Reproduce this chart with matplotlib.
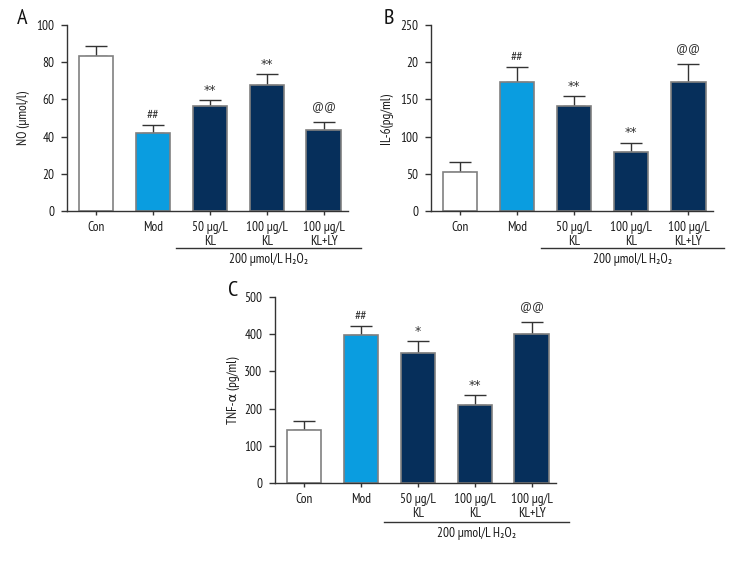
import matplotlib
matplotlib.use("Agg")
import matplotlib.pyplot as plt
from matplotlib import font_manager

names = {f.name for f in font_manager.fontManager.ttflist}
prefs = ['PT Sans Narrow', 'Fira Sans Condensed', 'Roboto Condensed', 'Open Sans Condensed',
         'Encode Sans Condensed', 'Archivo Narrow', 'Liberation Sans Narrow', 'Liberation Sans']
main_font = next(p for p in prefs if p in names)
fam = [main_font, 'DejaVu Sans']
plt.rcParams['font.family'] = fam

categories = ["Con", "Mod", "50 μg/L\nKL", "100 μg/L\nKL", "100 μg/L\nKL+LY"]
bar_colors = ["#ffffff", "#0a9de0", "#062f5b", "#062f5b", "#062f5b"]
group_label = "200 μmol/L H₂O₂"

no_vals = [83.5, 42.0, 56.5, 68.0, 43.3]
no_err = [5.0, 4.0, 3.2, 5.5, 4.7]
no_marks = ["", "##", "**", "**", "@@"]

il6_vals = [53, 173, 141, 79, 174]
il6_err = [13, 20, 13, 13, 24]
il6_marks = ["", "##", "**", "**", "@@"]
il6_ticks = [0, 50, 100, 150, 200, 250]
il6_ticklabels = ["0", "50", "100", "150", "20", "250"]

tnf_vals = [142, 398, 350, 209, 401]
tnf_err = [26, 24, 32, 27, 32]
tnf_marks = ["", "##", "*", "**", "@@"]

W, H = 750, 564
fig = plt.figure(figsize=(W / 100, H / 100), dpi=100)

def panel(px_left, px_right, px_top, px_bottom, vals, errs, marks, ymax, ticks,
          ticklabels, ylabel, ylabel_px, letter, letter_xy, line_px):
    ax = fig.add_axes([px_left / W, 1 - px_bottom / H, (px_right - px_left) / W,
                       (px_bottom - px_top) / H])
    x = list(range(len(categories)))
    ax.bar(x, vals, width=0.6, color=bar_colors, edgecolor="#808080", linewidth=1.2, zorder=2)
    ax.errorbar(x, vals, yerr=[[0] * len(errs), errs], fmt="none", ecolor="#333333",
                elinewidth=1.0, capsize=8, capthick=1.0, zorder=1)
    for xi, v, e, m in zip(x, vals, errs, marks):
        if not m:
            continue
        if "*" in m:
            ax.annotate(m, (xi, v + e), xytext=(0, 7), textcoords="offset points",
                        ha="center", va="center", fontsize=9, color="#333333",
                        family="DejaVu Sans")
        else:
            off = 10 if "@" in m else 7
            ax.annotate(m, (xi, v + e), xytext=(0, off), textcoords="offset points",
                        ha="center", va="center", fontsize=10, color="#333333")
    ax.set_xlim(-0.51, 4.43)
    ax.set_ylim(0, ymax)
    ax.set_yticks(ticks)
    ax.set_yticklabels(ticklabels)
    ax.set_xticks(x)
    ax.set_xticklabels(categories, linespacing=1.15)
    ax.tick_params(axis="both", direction="out", length=4, width=1, colors="#333333",
                   labelsize=9.5, labelcolor="#1a1a1a", pad=5)
    ax.tick_params(axis="x", length=3, pad=4)
    for s in ["top", "right"]:
        ax.spines[s].set_visible(False)
    for s in ["left", "bottom"]:
        ax.spines[s].set_color("#333333")
        ax.spines[s].set_linewidth(1.0)
    ax.set_ylabel(ylabel, fontsize=9.5, color="#1a1a1a")
    ax.yaxis.set_label_coords((ylabel_px - px_left) / (px_right - px_left), 0.5)
    # bracket line and label
    sp = (px_right - px_left) / (4.43 + 0.51)
    x0 = -0.51
    def px2x(p):
        return x0 + (p - px_left) / sp
    def py2y(p):
        return (px_bottom - p) / (px_bottom - px_top)
    trans = ax.get_xaxis_transform()
    lx0, lx1, ly, ty = line_px
    ax.plot([px2x(lx0), px2x(lx1)], [py2y(ly), py2y(ly)], color="#333333", lw=1.0,
            transform=trans, clip_on=False)
    ax.text(px2x((lx0 + lx1) / 2), py2y(ty), group_label, transform=trans,
            ha="center", va="center", fontsize=9.5, color="#1a1a1a")
    fig.text(letter_xy[0] / W, 1 - letter_xy[1] / H, letter, fontsize=16,
             ha="center", va="center", color="#111111")
    return ax

panel(67, 348, 25, 211, no_vals, no_err, no_marks, 100, [0, 20, 40, 60, 80, 100],
      ["0", "20", "40", "60", "80", "100"], "NO (μmol/l)", 30, "A", (22, 19),
      (176, 361, 248, 259))
panel(431, 713, 25, 211, il6_vals, il6_err, il6_marks, 250, il6_ticks, il6_ticklabels,
      "IL-6(pg/ml)", 393, "B", (389, 19), (541, 724, 248, 259))
panel(275, 556, 297, 483, tnf_vals, tnf_err, tnf_marks, 500, [0, 100, 200, 300, 400, 500],
      ["0", "100", "200", "300", "400", "500"], "TNF-α (pg/ml)", 240, "C", (233, 291),
      (384, 569, 522, 533))

fig.savefig("out.png", dpi=100, facecolor="white")
